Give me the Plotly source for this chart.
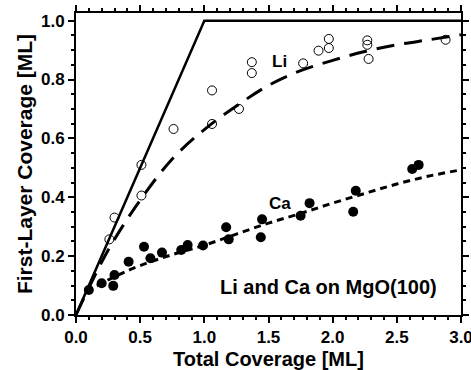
import plotly.graph_objects as go

# Li data (open circles)
li_x = [0.26, 0.30, 0.51, 0.51, 0.76, 1.06, 1.06, 1.27, 1.37, 1.37, 1.77, 1.89, 1.97, 1.97, 2.27, 2.27, 2.28, 2.88]
li_y = [0.257, 0.331, 0.406, 0.51, 0.632, 0.763, 0.649, 0.70, 0.822, 0.859, 0.855, 0.898, 0.907, 0.938, 0.918, 0.933, 0.870, 0.935]

# Ca data (filled circles)
ca_x = [0.10, 0.20, 0.29, 0.30, 0.41, 0.53, 0.58, 0.67, 0.82, 0.87, 0.99, 1.17, 1.19, 1.44, 1.45, 1.75, 1.82, 2.16, 2.18, 2.62, 2.67]
ca_y = [0.085, 0.108, 0.099, 0.136, 0.181, 0.232, 0.193, 0.212, 0.221, 0.238, 0.236, 0.298, 0.257, 0.264, 0.325, 0.337, 0.38, 0.351, 0.422, 0.496, 0.51]

# Layer-by-layer limit (solid)
lim_x = [0.0, 1.0, 3.0]
lim_y = [0.0, 1.0, 1.0]

# Li fit curve (dashed)
lifit_x = [0.0, 0.25, 0.5, 0.75, 1.0, 1.25, 1.5, 1.75, 2.0, 2.25, 2.5, 2.75, 3.0]
lifit_y = [0.0, 0.22, 0.39, 0.53, 0.63, 0.71, 0.78, 0.83, 0.865, 0.895, 0.918, 0.935, 0.952]

# Ca fit curve (short dash)
cafit_x = [0.08, 0.3, 0.5, 0.75, 1.0, 1.25, 1.5, 1.75, 2.0, 2.25, 2.5, 2.75, 3.0]
cafit_y = [0.079, 0.13, 0.168, 0.205, 0.237, 0.275, 0.312, 0.345, 0.38, 0.413, 0.445, 0.472, 0.493]

FONT = "Liberation Sans, Arial, sans-serif"

fig = go.Figure()
fig.add_trace(go.Scatter(x=lim_x, y=lim_y, mode="lines",
                         line=dict(color="black", width=2.5), showlegend=False))
fig.add_trace(go.Scatter(x=lifit_x, y=lifit_y, mode="lines",
                         line=dict(color="black", width=3, dash="18px,10px", shape="spline"),
                         showlegend=False))
fig.add_trace(go.Scatter(x=cafit_x, y=cafit_y, mode="lines",
                         line=dict(color="black", width=3, dash="7px,5px", shape="spline"),
                         showlegend=False))
fig.add_trace(go.Scatter(x=li_x, y=li_y, mode="markers",
                         marker=dict(symbol="circle-open", size=9, color="black", line=dict(width=1)),
                         showlegend=False))
fig.add_trace(go.Scatter(x=ca_x, y=ca_y, mode="markers",
                         marker=dict(symbol="circle", size=10, color="black"),
                         showlegend=False))

tickfont = dict(family=FONT, size=17, color="black", weight="bold")

fig.update_layout(
    width=471, height=370,
    margin=dict(l=76, r=10, t=13, b=55),
    paper_bgcolor="white", plot_bgcolor="white",
    xaxis=dict(range=[0, 3.0], dtick=0.5, tickformat=".1f", showgrid=False, zeroline=False,
               automargin=False, ticklabeloverflow="allow",
               showline=True, mirror="allticks", linecolor="black", linewidth=2,
               ticks="outside", ticklen=6, tickwidth=2, tickcolor="black",
               minor=dict(ticks="outside", dtick=0.1, ticklen=3, tickwidth=1.5, tickcolor="black"),
               tickfont=tickfont,
               title=dict(text="Total Coverage [ML]", standoff=11,
                          font=dict(family=FONT, size=20, color="black", weight="bold"))),
    yaxis=dict(range=[0, 1.026], dtick=0.2, tickformat=".1f", showgrid=False, zeroline=False,
               automargin=False, ticklabeloverflow="allow",
               showline=True, mirror="allticks", linecolor="black", linewidth=2,
               ticks="outside", ticklen=6, tickwidth=2, tickcolor="black",
               minor=dict(ticks="outside", dtick=0.05, ticklen=3, tickwidth=1.5, tickcolor="black"),
               tickfont=tickfont,
               title=dict(text="First-Layer Coverage [ML]", standoff=3,
                          font=dict(family=FONT, size=21, color="black", weight="bold"))),
    annotations=[
        dict(x=1.586, y=0.86, text="Li", showarrow=False,
             font=dict(family=FONT, size=17, color="black", weight="bold")),
        dict(x=1.586, y=0.38, text="Ca", showarrow=False,
             font=dict(family=FONT, size=17, color="black", weight="bold")),
        dict(x=1.97, y=0.095, text="Li and Ca on MgO(100)", showarrow=False,
             font=dict(family=FONT, size=20, color="black", weight="bold")),
    ],
)

fig.write_html("out.html", config={"displayModeBar": False},
               post_script="document.body.style.margin='0px';")
